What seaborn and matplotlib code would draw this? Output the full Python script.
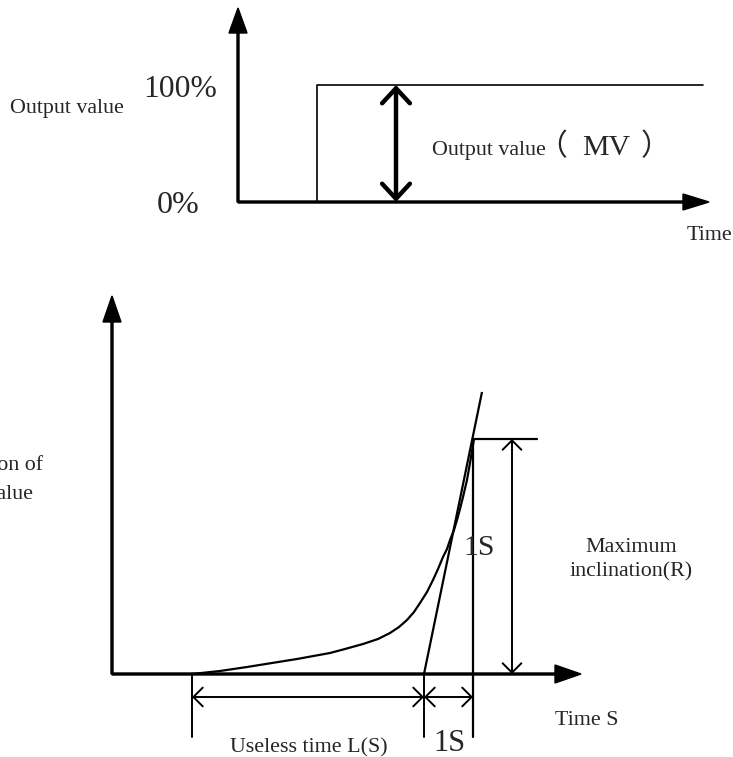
import matplotlib
matplotlib.use("Agg")
import matplotlib.pyplot as plt
import seaborn as sns
import pandas as pd

# canvas is laid out in pixel units (x to the right, y downwards)
W, H = 733, 757

# ---- top panel: step of the output value ----
top_origin = (238, 202)
top_y_tip = 8
top_x_tip = 709
step_x = [317, 317, 703]
step_y = [202, 85, 85]
mv_arrow_x = 396

# ---- bottom panel: process reaction curve ----
bot_origin = (112, 674)
bot_y_tip = 296
bot_x_tip = 581
curve_x = [192, 220, 247, 272, 297, 330, 345, 363, 378, 390, 399, 407, 414, 420,
           427, 433, 438, 443, 447, 450, 454, 457, 460, 463, 467, 470, 474]
curve_y = [674, 671, 667, 663, 659, 653, 649, 644, 639, 633, 627, 620, 612, 603,
           592, 580, 569, 557, 549, 540, 530, 520, 509, 497, 480, 463, 439]
tangent_x = [424, 482]
tangent_y = [674, 392]
peak_y = 439
peak_line_x = [473, 537]
dead_start, dead_end, one_s_end = 192, 424, 473
dim_y = 697
tick_bottom = 737
incl_arrow_x = 512

sns.set_theme(style="white")
plt.rcParams["font.family"] = ["Liberation Serif", "Noto Sans CJK SC", "DejaVu Sans"]

fig = plt.figure(figsize=(W / 100, H / 100), dpi=100)
ax = fig.add_axes([0, 0, 1, 1])
ax.set_xlim(0, W)
ax.set_ylim(H, 0)
ax.axis("off")

k = "black"
axis_kw = dict(width=2, length_includes_head=True, color=k)

# top axes
ox, oy = top_origin
ax.arrow(ox, oy, 0, top_y_tip - oy, head_width=18, head_length=25, **axis_kw)
ax.arrow(ox, oy, top_x_tip - ox, 0, head_width=16, head_length=26, **axis_kw)
step = pd.DataFrame({"x": step_x, "y": step_y})
sns.lineplot(data=step, x="x", y="y", sort=False, estimator=None, color=k, lw=1.2, ax=ax)
ax.annotate("", xy=(mv_arrow_x, step_y[1]), xytext=(mv_arrow_x, step_y[0]),
            arrowprops=dict(arrowstyle="<->,head_length=0.54,head_width=0.5", lw=3.2,
                            mutation_scale=20, shrinkA=0, shrinkB=0, color=k))

ax.text(10, 113, "Output value", fontsize=15.8, va="baseline")
ax.text(143, 97, "100%", fontsize=22.8, va="baseline")
ax.text(157, 213, "0%", fontsize=23, va="baseline")
ax.text(432, 155, "Output value", fontsize=15.8, va="baseline")
# full-width brackets sit wider apart than the CJK font puts them
ax.text(537, 155, "（", fontsize=21.5, va="baseline")
ax.text(582, 155, "MV", fontsize=21.5, va="baseline")
ax.text(641, 155, "）", fontsize=21.5, va="baseline")
ax.text(687, 240, "Time", fontsize=15.8, va="baseline")

# bottom axes
bx, by = bot_origin
ax.arrow(bx, by, 0, bot_y_tip - by, head_width=18, head_length=26, **axis_kw)
ax.arrow(bx, by, bot_x_tip - bx, 0, head_width=18, head_length=26, **axis_kw)

curve = pd.DataFrame({"x": curve_x, "y": curve_y})
sns.lineplot(data=curve, x="x", y="y", sort=False, estimator=None, color=k, lw=1.6, ax=ax)
ax.plot(tangent_x, tangent_y, color=k, lw=1.6, solid_capstyle="butt")

ax.plot(peak_line_x, [peak_y, peak_y], color=k, lw=1.6)
ax.plot([one_s_end, one_s_end], [peak_y, tick_bottom], color=k, lw=1.6)
for tx in (dead_start, dead_end):
    ax.plot([tx, tx], [by, tick_bottom], color=k, lw=1.4)

thin = dict(arrowstyle="<->,head_length=0.45,head_width=0.45", lw=1.4,
            mutation_scale=15, shrinkA=0, shrinkB=0, color=k)
ax.annotate("", xy=(incl_arrow_x, peak_y), xytext=(incl_arrow_x, by), arrowprops=thin)
ax.annotate("", xy=(dead_start, dim_y), xytext=(dead_end, dim_y), arrowprops=thin)
ax.annotate("", xy=(dead_end, dim_y), xytext=(one_s_end, dim_y), arrowprops=thin)

# left label runs off the page edge in the original
ax.text(43, 470, "Variation of", fontsize=15.8, ha="right", va="baseline")
ax.text(33, 499, "process value", fontsize=15.8, ha="right", va="baseline")
ax.text(463, 555, "1S", fontsize=21.5, va="baseline")
ax.text(631, 552, "Maximum", fontsize=15.8, ha="center", va="baseline")
ax.text(631, 576, "inclination(R)", fontsize=15.8, ha="center", va="baseline")
ax.text(555, 725, "Time S", fontsize=15.8, va="baseline")
ax.text(230, 752, "Useless time L(S)", fontsize=15.8, va="baseline")
ax.text(433, 751, "1S", fontsize=22, va="baseline")

fig.savefig("out.png", dpi=100)
